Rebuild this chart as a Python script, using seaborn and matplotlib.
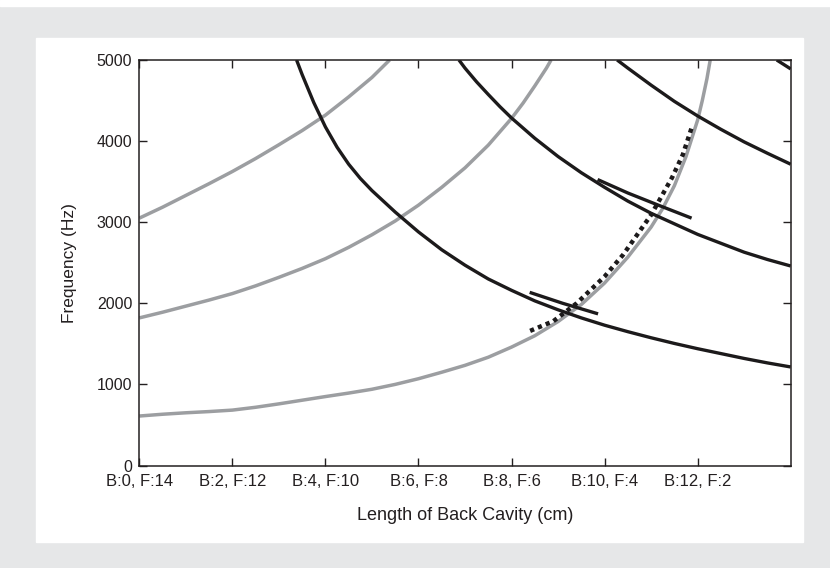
import numpy as np
import pandas as pd
import matplotlib
matplotlib.use("Agg")
import matplotlib.pyplot as plt
from matplotlib.patches import Rectangle
import seaborn as sns

# x = back cavity length (cm), y = frequency (Hz)
# front cavity resonances (gray, rising)
front3_x = [0, 0.5, 1, 1.5, 2, 2.5, 3, 3.5, 4, 4.5, 5, 5.38]
front3_f = [3050, 3185, 3330, 3475, 3625, 3785, 3955, 4130, 4320, 4545, 4785, 5000]
front2_x = [0, 0.5, 1, 1.5, 2, 2.5, 3, 3.5, 4, 4.5, 5, 5.5, 6, 6.5, 7, 7.5, 8,
            8.25, 8.5, 8.75, 8.85]
front2_f = [1820, 1890, 1965, 2040, 2120, 2215, 2320, 2430, 2550, 2690, 2845, 3015,
            3210, 3430, 3670, 3950, 4280, 4470, 4680, 4900, 5000]
helm_x = [0, 0.5, 1, 1.5, 2, 2.5, 3, 3.5, 4, 4.5, 5, 5.5, 6, 6.5, 7, 7.5, 8, 8.5, 9,
          9.5, 10, 10.5, 11, 11.25, 11.5, 11.75, 12, 12.1, 12.2, 12.27]
helm_f = [610, 632, 650, 665, 683, 718, 760, 805, 850, 893, 940, 1000, 1070, 1150, 1235,
          1335, 1460, 1600, 1775, 1985, 2250, 2570, 2940, 3170, 3450, 3810, 4260, 4500,
          4770, 5000]

# back cavity resonances (black, falling)
back1_x = [3.38, 3.5, 3.75, 4.0, 4.25, 4.5, 4.75, 5.0, 5.5, 6.0, 6.5, 7.0, 7.5, 8.0,
           8.5, 9.0, 9.5, 10.0, 10.5, 11.0, 11.5, 12.0, 12.5, 13.0, 13.5, 14.0]
back1_f = [5000, 4820, 4475, 4175, 3925, 3715, 3540, 3390, 3125, 2880, 2660, 2470, 2300,
           2160, 2030, 1920, 1820, 1730, 1650, 1575, 1505, 1440, 1380, 1320, 1265, 1215]
back2_x = [6.87, 7.0, 7.25, 7.5, 7.75, 8.0, 8.5, 9.0, 9.5, 10.0, 10.5, 11.0, 11.5, 12.0,
           12.5, 13.0, 13.5, 14.0]
back2_f = [5000, 4900, 4730, 4575, 4425, 4285, 4035, 3810, 3610, 3430, 3260, 3110, 2980,
           2850, 2740, 2630, 2540, 2460]
back3_x = [10.27, 10.5, 11.0, 11.5, 12.0, 12.5, 13.0, 13.5, 14.0]
back3_f = [5000, 4900, 4690, 4490, 4310, 4145, 3990, 3850, 3715]
back4_x = [13.7, 14.0]
back4_f = [5000, 4890]

# short formant segments and the dotted track
seg1_x = [8.39, 9.1, 9.86]
seg1_f = [2135, 2000, 1870]
seg2_x = [9.85, 10.5, 11.2, 11.87]
seg2_f = [3526, 3360, 3200, 3050]
dots_x = [8.4, 8.9, 9.4, 10.0, 10.4, 11.0, 11.45, 11.68, 11.88]
dots_f = [1660, 1780, 2000, 2330, 2600, 3090, 3550, 3830, 4180]

tick_pos = [0, 2, 4, 6, 8, 10, 12]
tick_labels = ["B:0, F:14", "B:2, F:12", "B:4, F:10", "B:6, F:8",
               "B:8, F:6", "B:10, F:4", "B:12, F:2"]
y_ticks = [0, 1000, 2000, 3000, 4000, 5000]

sns.set_style("ticks")
plt.rcParams['font.family'] = ['Liberation Sans', 'DejaVu Sans']

GRAY = "#9c9ea1"
BLACK = "#1c1a1b"

fig = plt.figure(figsize=(8.3, 5.68), dpi=100, facecolor="#e6e7e8")
# white panel behind the axes
fig.patches.append(Rectangle((36 / 830, 1 - 542 / 568), 767 / 830, 504 / 568,
                             transform=fig.transFigure, color="white", zorder=-10))
fig.patches.append(Rectangle((0, 1 - 6 / 568), 1, 6 / 568,
                             transform=fig.transFigure, color="white", zorder=-10))

ax = fig.add_axes([139.3 / 830, 1 - 465.5 / 568, 651.4 / 830, 405.5 / 568])
ax.set_facecolor("white")

for xs, fs in [(front3_x, front3_f), (front2_x, front2_f), (helm_x, helm_f)]:
    sns.lineplot(x=xs, y=fs, ax=ax, color=GRAY, lw=2.5, estimator=None,
                 solid_capstyle="butt", solid_joinstyle="round")

for xs, fs in [(back1_x, back1_f), (back2_x, back2_f), (back3_x, back3_f),
               (back4_x, back4_f), (seg1_x, seg1_f), (seg2_x, seg2_f)]:
    sns.lineplot(x=xs, y=fs, ax=ax, color=BLACK, lw=2.4, estimator=None,
                 solid_capstyle="butt", solid_joinstyle="round")

sns.lineplot(x=dots_x, y=dots_f, ax=ax, color=BLACK, lw=3.2, estimator=None,
             linestyle=(0, (0.95, 0.95)), dash_capstyle="butt")

ax.set_xlim(0, 14)
ax.set_ylim(0, 5000)
ax.set_xticks(tick_pos)
ax.set_xticklabels(tick_labels, fontsize=12)
ax.set_yticks(y_ticks)
ax.set_yticklabels([str(v) for v in y_ticks], fontsize=11.5)
ax.tick_params(direction="in", length=6, width=1, top=True, right=True,
               color="#231f20", pad=5, labelcolor="#231f20")
ax.tick_params(axis="x", pad=6)
for sp in ax.spines.values():
    sp.set_visible(True)
    sp.set_linewidth(1.1)
    sp.set_color("#231f20")

ax.set_xlabel("Length of Back Cavity (cm)", fontsize=13, color="#231f20", labelpad=13)
ax.set_ylabel("Frequency (Hz)", fontsize=12.5, color="#231f20", labelpad=14)

fig.savefig("out.png", dpi=100, facecolor=fig.get_facecolor())
